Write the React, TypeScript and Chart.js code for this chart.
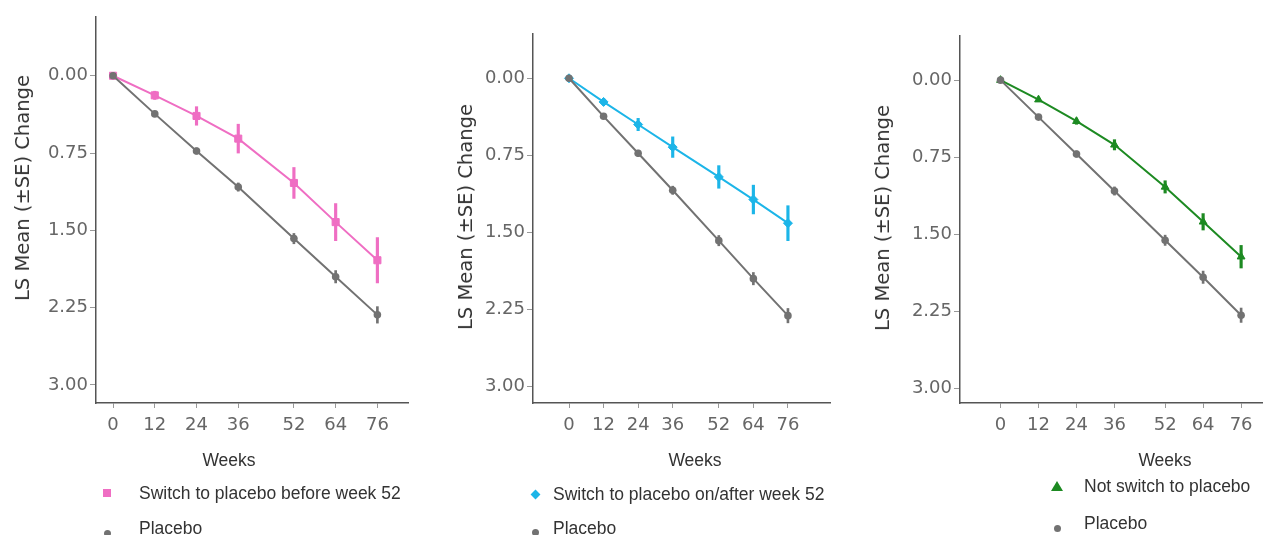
import React, { useEffect, useRef } from "react";
import { Chart, registerables } from "chart.js";

Chart.register(...registerables);

const weeks = [0, 12, 24, 36, 52, 64, 76];
const yTickValues = [0, 0.75, 1.5, 2.25, 3];

const switchBefore52Mean = [0, 0.19, 0.39, 0.61, 1.04, 1.42, 1.79];
const switchBefore52SE = [0, 0.04, 0.09, 0.14, 0.15, 0.18, 0.22];
const placebo1Mean = [0, 0.37, 0.73, 1.08, 1.58, 1.95, 2.32];
const placebo1SE = [0, 0.02, 0.03, 0.04, 0.05, 0.06, 0.08];

const switchAfter52Mean = [0, 0.23, 0.45, 0.67, 0.96, 1.18, 1.41];
const switchAfter52SE = [0, 0.03, 0.06, 0.1, 0.11, 0.14, 0.17];
const placebo2Mean = [0, 0.37, 0.73, 1.09, 1.58, 1.95, 2.31];
const placebo2SE = [0, 0.02, 0.03, 0.04, 0.05, 0.06, 0.07];

const notSwitchMean = [0, 0.19, 0.4, 0.63, 1.04, 1.38, 1.72];
const notSwitchSE = [0, 0.02, 0.03, 0.05, 0.06, 0.08, 0.11];
const placebo3Mean = [0, 0.36, 0.72, 1.08, 1.56, 1.92, 2.29];
const placebo3SE = [0, 0.02, 0.03, 0.04, 0.05, 0.06, 0.07];

const seriesLabels = [
  "Switch to placebo before week 52",
  "Switch to placebo on/after week 52",
  "Not switch to placebo",
];
const placeboLabel = "Placebo";
const xTitle = "Weeks";
const yTitle = "LS Mean (\u00B1SE) Change";

const GRAY = "#727272";
const H = 470;

type PanelCfg = {
  left: number;
  width: number;
  axisX: number;
  areaRight: number;
  areaTop: number;
  areaBottom: number;
  titleX: number;
  titleY: number;
  xMin: number;
  xMax: number;
  yMin: number;
  yMax: number;
  color: string;
  pointStyle: string;
  pointRadius: number;
  mean: number[];
  se: number[];
  pMean: number[];
  pSE: number[];
  label: string;
  weeksX: number;
  markerX: number;
  textX: number;
  row1Y: number;
  row2Y: number;
  dotY: number;
};

const panels: PanelCfg[] = [
  {
    left: 0, width: 430, axisX: 96, areaRight: 408, areaTop: 17, areaBottom: 403, titleX: 23, titleY: 188,
    xMin: -4.9, xMax: 84.8, yMin: -0.57, yMax: 3.175,
    color: "#ef6ec3", pointStyle: "rect", pointRadius: 5,
    mean: switchBefore52Mean, se: switchBefore52SE, pMean: placebo1Mean, pSE: placebo1SE,
    label: seriesLabels[0], weeksX: 229, markerX: 107, textX: 139, row1Y: 493, row2Y: 528, dotY: 533,
  },
  {
    left: 440, width: 420, axisX: 533, areaRight: 830, areaTop: 34, areaBottom: 403, titleX: 466, titleY: 217,
    xMin: -12.5, xMax: 90.6, yMin: -0.431, yMax: 3.16,
    color: "#1cb5e8", pointStyle: "rectRot", pointRadius: 4.5,
    mean: switchAfter52Mean, se: switchAfter52SE, pMean: placebo2Mean, pSE: placebo2SE,
    label: seriesLabels[1], weeksX: 695, markerX: 535, textX: 553, row1Y: 494, row2Y: 528, dotY: 532,
  },
  {
    left: 870, width: 404, axisX: 960, areaRight: 1262, areaTop: 36, areaBottom: 403, titleX: 883, titleY: 218,
    xMin: -12.8, xMax: 82.6, yMin: -0.43, yMax: 3.145,
    color: "#1d8a22", pointStyle: "triangle", pointRadius: 4.5,
    mean: notSwitchMean, se: notSwitchSE, pMean: placebo3Mean, pSE: placebo3SE,
    label: seriesLabels[2], weeksX: 1165, markerX: 1057, textX: 1084, row1Y: 486, row2Y: 523, dotY: 528,
  },
];

function Panel({ p }: { p: PanelCfg }) {
  const ref = useRef<HTMLCanvasElement>(null);
  useEffect(() => {
    const canvas = ref.current;
    if (!canvas) return;
    const pts = (m: number[]) => weeks.map((w, i) => ({ x: w, y: m[i] }));
    const bars = (m: number[], s: number[]) =>
      weeks.map((w, i) => ({ x: w, y: [m[i] - s[i], m[i] + s[i]] }));
    const chart = new Chart(canvas, {
      type: "line",
      data: {
        datasets: [
          {
            type: "line",
            label: placeboLabel,
            data: pts(p.pMean) as any,
            borderColor: GRAY,
            backgroundColor: GRAY,
            borderWidth: 2,
            pointStyle: "circle",
            pointRadius: 3.8,
            pointBorderWidth: 0,
            pointBackgroundColor: GRAY,
            order: 0,
          },
          {
            type: "bar",
            label: placeboLabel + " SE",
            data: bars(p.pMean, p.pSE) as any,
            backgroundColor: GRAY,
            barThickness: 2,
            grouped: false,
            order: 0,
          } as any,
          {
            type: "line",
            label: p.label,
            data: pts(p.mean) as any,
            borderColor: p.color,
            backgroundColor: p.color,
            borderWidth: 2,
            pointStyle: p.pointStyle as any,
            pointRadius: p.pointRadius,
            pointBorderWidth: 1,
            pointBorderColor: p.color,
            pointBackgroundColor: p.color,
            order: 1,
          },
          {
            type: "bar",
            label: p.label + " SE",
            data: bars(p.mean, p.se) as any,
            backgroundColor: p.color,
            barThickness: 2.5,
            grouped: false,
            order: 1,
          } as any,
        ],
      },
      options: {
        responsive: false,
        animation: false,
        layout: {
          padding: { top: p.areaTop, right: p.width - (p.areaRight - p.left), left: 0, bottom: 0 },
        },
        plugins: { legend: { display: false }, tooltip: { enabled: false } },
        scales: {
          x: {
            type: "linear",
            min: p.xMin,
            max: p.xMax,
            offset: false,
            afterBuildTicks: (s: any) => {
              s.ticks = weeks.map((v) => ({ value: v }));
            },
            afterFit: (s: any) => {
              s.height = H - p.areaBottom;
            },
            ticks: {
              font: { family: "DejaVu Sans", size: 18 },
              color: "#666",
              padding: 7,
              maxRotation: 0,
              autoSkip: false,
              callback: (v: any) => String(v),
            },
            grid: { drawOnChartArea: false, tickLength: 5, tickColor: "#999", offset: false },
            border: { color: "#555", width: 1.5 },
          },
          y: {
            type: "linear",
            reverse: true,
            min: p.yMin,
            max: p.yMax,
            afterBuildTicks: (s: any) => {
              s.ticks = yTickValues.map((v) => ({ value: v }));
            },
            afterFit: (s: any) => {
              s.width = p.axisX - p.left;
            },
            ticks: {
              font: { family: "DejaVu Sans", size: 18 },
              color: "#666",
              padding: 2,
              callback: (v: any) => Number(v).toFixed(2),
            },
            grid: { drawOnChartArea: false, tickLength: 6, tickColor: "#999" },
            border: { color: "#555", width: 1.5 },
          },
        },
      } as any,
    });
    return () => chart.destroy();
  }, []);

  const txt: React.CSSProperties = {
    position: "absolute",
    fontFamily: "'Liberation Sans', Arial, sans-serif",
    fontSize: 17.5,
    lineHeight: "20px",
    color: "#333",
    whiteSpace: "nowrap",
    transform: "translateY(-50%)",
  };

  let marker: React.ReactNode;
  if (p.pointStyle === "rect") {
    marker = (
      <div style={{ position: "absolute", left: p.markerX - 4, top: p.row1Y - 4, width: 8, height: 8, background: p.color }} />
    );
  } else if (p.pointStyle === "rectRot") {
    marker = (
      <div style={{ position: "absolute", left: p.markerX - 3.5, top: p.row1Y - 3.5, width: 7, height: 7, background: p.color, transform: "rotate(45deg)" }} />
    );
  } else {
    marker = (
      <div style={{ position: "absolute", left: p.markerX - 6, top: p.row1Y - 5, width: 0, height: 0, borderLeft: "6px solid transparent", borderRight: "6px solid transparent", borderBottom: `10px solid ${p.color}` }} />
    );
  }

  return (
    <>
      <canvas
        ref={ref}
        width={p.width}
        height={H}
        style={{ position: "absolute", left: p.left, top: 0, width: p.width, height: H }}
      />
      <div
        style={{
          position: "absolute",
          left: p.titleX,
          top: p.titleY,
          transform: "translate(-50%, -50%) rotate(-90deg)",
          fontFamily: "'DejaVu Sans', sans-serif",
          fontSize: 19.5,
          lineHeight: "22px",
          color: "#333",
          whiteSpace: "nowrap",
        }}
      >
        {yTitle}
      </div>
      <div style={{ ...txt, left: p.weeksX, top: 460, transform: "translate(-50%, -50%)" }}>{xTitle}</div>
      {marker}
      <div style={{ ...txt, left: p.textX, top: p.row1Y }}>{p.label}</div>
      <div style={{ position: "absolute", left: p.markerX - 3.5, top: p.dotY - 3.5, width: 7, height: 7, borderRadius: "50%", background: GRAY }} />
      <div style={{ ...txt, left: p.textX, top: p.row2Y }}>{placeboLabel}</div>
    </>
  );
}

export default function App() {
  useEffect(() => {
    document.body.style.margin = "0";
  }, []);
  return (
    <div style={{ position: "relative", width: 1274, height: 535, overflow: "hidden", background: "#fff" }}>
      <div
        style={{
          position: "absolute",
          left: 33,
          top: -28,
          fontFamily: "'Liberation Sans', Arial, sans-serif",
          fontSize: 32,
          lineHeight: "32px",
          color: "#999",
        }}
      >
        CDR-SB
      </div>
      {panels.map((p, i) => (
        <Panel key={i} p={p} />
      ))}
    </div>
  );
}
